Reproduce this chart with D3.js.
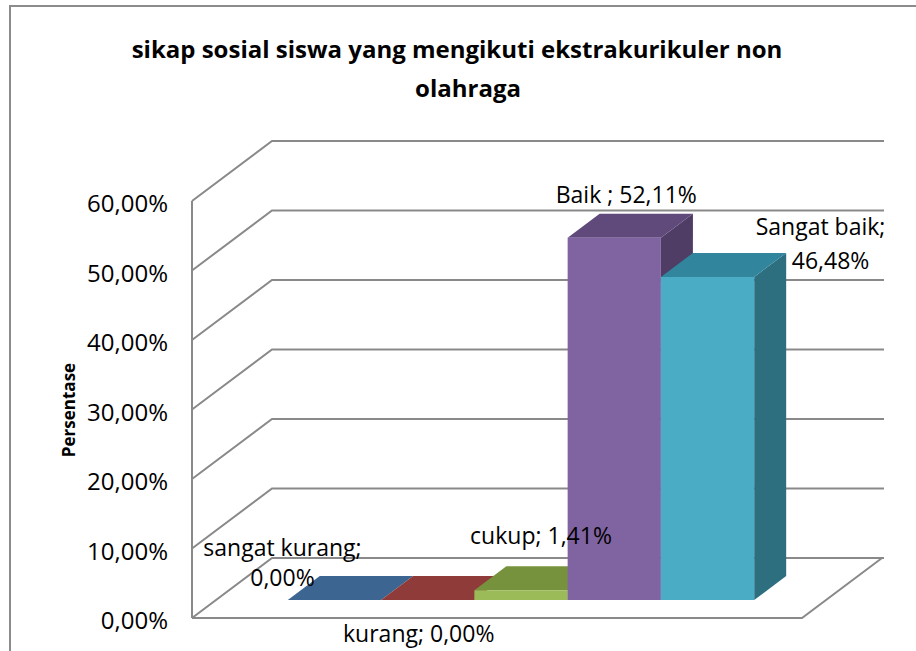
<!DOCTYPE html>
<html>
<head>
<meta charset="utf-8">
<script src="https://cdn.jsdelivr.net/npm/d3@7"></script>
<style>
    body { margin: 0; background: #fff; }
    text { font-family: "Open Sans", sans-serif; fill: #000; }
</style>
</head>
<body>
<div id="chart"></div>
<script>
const categories = ['sangat kurang', 'kurang', 'cukup', 'Baik ', 'Sangat baik'];
const values = [0, 0, 1.41, 52.11, 46.48];
const tickValues = [0, 10, 20, 30, 40, 50, 60];
const wrapLabel = [true, false, false, false, true];

const frontColors = ['#4F81BD', '#C0504D', '#9BBB59', '#8064A2', '#4BACC6'];
const topColors = ['#3C6592', '#8E3B39', '#77923C', '#604A7B', '#31859C'];
const sideColors = ['#2F4F74', '#70302E', '#5E7430', '#4F3D66', '#2D6E7F'];

// label line centres, relative to the bar's front top centre
const labelOffsets = [
    [[-52, -52], [-52, -22]],
    [[-9, 34]],
    [[20, -54]],
    [[12, -43]],
    [[113, -50], [123, -16]]
];

const chartWidth = 916;
const chartHeight = 651;
const depthDx = 80;
const depthDy = -60;
const barFront = 0.3;
const barBack = 0.7;

const fmt = v => v.toFixed(2).replace('.', ',') + '%';

const svg = d3.select('#chart')
    .append('svg')
    .attr('width', chartWidth)
    .attr('height', chartHeight);

// outer frame
svg.append('rect')
    .attr('x', 10)
    .attr('y', 6)
    .attr('width', 1000)
    .attr('height', 1000)
    .attr('fill', 'none')
    .attr('stroke', '#8c8c8c')
    .attr('stroke-width', 2);

const xScale = d3.scaleBand()
    .domain(categories)
    .range([192, 802])
    .paddingInner(0)
    .paddingOuter(0.77);

const yScale = d3.scaleLinear()
    .domain([0, 60])
    .range([618, 201]);

const dScaleX = d3.scaleLinear().domain([0, 1]).range([0, depthDx]);
const dScaleY = d3.scaleLinear().domain([0, 1]).range([0, depthDy]);

// project (front x, value, depth) onto the page
const proj = (x, v, d) => [x + dScaleX(d), yScale(v) + dScaleY(d)];

const x0 = xScale.range()[0];
const x1 = xScale.range()[1];
const line = d3.line();

const walls = svg.append('g')
    .attr('fill', 'none')
    .attr('stroke', '#898989')
    .attr('stroke-width', 2);

// back wall and side wall gridlines
walls.selectAll('path.grid')
    .data(tickValues)
    .enter()
    .append('path')
    .attr('class', 'grid')
    .attr('d', t => line([proj(x0, t, 0), proj(x0, t, 1), [proj(x1, t, 1)[0] + 2, proj(x1, t, 1)[1]]]));

// left front edge
walls.append('path')
    .attr('d', line([proj(x0, 0, 0), proj(x0, 60, 0)]));

// floor
walls.append('path')
    .attr('d', line([proj(x0, 0, 0), proj(x1, 0, 0), proj(x1, 0, 1)]));

// y tick labels
svg.append('g')
    .selectAll('text')
    .data(tickValues)
    .enter()
    .append('text')
    .attr('x', 168)
    .attr('y', t => yScale(t) + 3)
    .attr('dy', '0.35em')
    .attr('text-anchor', 'end')
    .attr('font-size', 24)
    .text(t => fmt(t));

// y axis title
svg.append('text')
    .attr('transform', 'translate(69,410) rotate(-90)')
    .attr('dy', '0.35em')
    .attr('text-anchor', 'middle')
    .attr('font-size', 17)
    .attr('font-weight', 'bold')
    .text('Persentase');

// title
svg.append('text')
    .attr('x', 457)
    .attr('y', 58)
    .attr('text-anchor', 'middle')
    .attr('font-size', 24)
    .attr('font-weight', 'bold')
    .text('sikap sosial siswa yang mengikuti ekstrakurikuler non');

svg.append('text')
    .attr('x', 468)
    .attr('y', 97)
    .attr('text-anchor', 'middle')
    .attr('font-size', 24)
    .attr('font-weight', 'bold')
    .text('olahraga');

// 3D bars
const bars = svg.append('g')
    .selectAll('g')
    .data(categories)
    .enter()
    .append('g');

bars.append('path')
    .attr('fill', (c, i) => sideColors[i])
    .attr('d', (c, i) => {
        const r = xScale(c) + xScale.bandwidth();
        return line([proj(r, 0, barFront), proj(r, 0, barBack), proj(r, values[i], barBack), proj(r, values[i], barFront)]) + 'Z';
    });

bars.append('path')
    .attr('fill', (c, i) => topColors[i])
    .attr('d', (c, i) => {
        const l = xScale(c);
        const r = l + xScale.bandwidth();
        const v = values[i];
        return line([proj(l, v, barFront), proj(r, v, barFront), proj(r, v, barBack), proj(l, v, barBack)]) + 'Z';
    });

bars.append('path')
    .attr('fill', (c, i) => frontColors[i])
    .attr('d', (c, i) => {
        const l = xScale(c);
        const r = l + xScale.bandwidth();
        const v = values[i];
        return line([proj(l, 0, barFront), proj(r, 0, barFront), proj(r, v, barFront), proj(l, v, barFront)]) + 'Z';
    });

// data labels
const labels = svg.append('g');
categories.forEach((c, i) => {
    const anchor = proj(xScale(c) + xScale.bandwidth() / 2, values[i], barFront);
    const txt = c + '; ' + fmt(values[i]);
    const lines = wrapLabel[i] ? [c + ';', fmt(values[i])] : [txt];
    lines.forEach((s, j) => {
        labels.append('text')
            .attr('x', anchor[0] + labelOffsets[i][j][0])
            .attr('y', anchor[1] + labelOffsets[i][j][1])
            .attr('dy', '0.35em')
            .attr('text-anchor', 'middle')
            .attr('font-size', 23)
            .text(s);
    });
});
</script>
</body>
</html>
